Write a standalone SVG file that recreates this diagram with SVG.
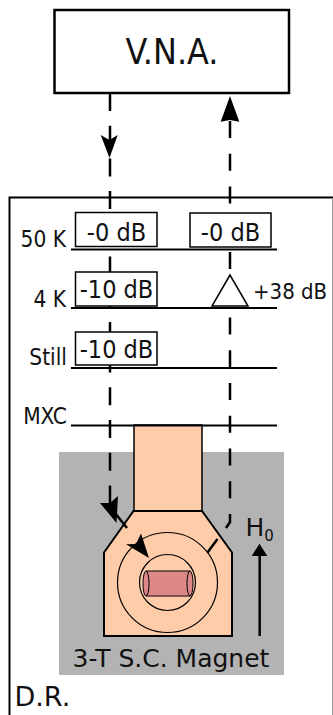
<svg xmlns="http://www.w3.org/2000/svg" width="333" height="715" viewBox="0 0 333 715">
<style>
text{font-family:"DejaVu Sans Condensed","DejaVu Sans",sans-serif;font-stretch:condensed;fill:#111}
text.r{font-family:"DejaVu Sans",sans-serif;font-stretch:normal}
.b{fill:#fff;stroke:#000;stroke-width:1.500}
.l{stroke:#000;stroke-width:2;fill:none}
.d{stroke:#000;stroke-width:2.500;fill:none}
.t{font-size:25px;text-anchor:middle}
.s{font-size:22.500px;text-anchor:end}
</style>
<rect width="333" height="715" fill="#fff"/>
<g id="dr"><path d="M9.500 715V197.500H333" fill="none" stroke="#000" stroke-width="2"/><path d="M332.500 198V715" stroke="#999" stroke-width="1"/><text class="r" x="14.500" y="706" font-size="27">D.R.</text></g>
<g id="vna"><rect x="54.500" y="10" width="234.500" height="83" fill="#fff" stroke="#000" stroke-width="2.500"/><text x="172" y="64" font-size="35.500" text-anchor="middle">V.N.A.</text></g>
<g id="magnet">
<rect x="59" y="452" width="225" height="223" fill="#b3b3b3"/>
<rect x="134" y="425" width="68" height="86" fill="#ffccaa" stroke="#000" stroke-width="1.500"/>
<path d="M133.500 511H202L232 552.500V636H104V552.500Z" fill="#ffccaa" stroke="#000" stroke-width="2"/>
<circle cx="167.500" cy="582.500" r="50" fill="none" stroke="#000" stroke-width="1.200"/>
<circle cx="167.500" cy="582.500" r="28" fill="none" stroke="#000" stroke-width="1.200"/>
<g id="sample"><path d="M146 571H190V596H146Z" fill="#de8787" stroke="#000" stroke-width="1"/><path d="M146 596H190" stroke="#805050" stroke-width="1.500"/><ellipse cx="146" cy="583.500" rx="3" ry="12.500" fill="#de8787" stroke="#000" stroke-width="1"/><ellipse cx="190" cy="583.500" rx="3" ry="12.500" fill="#de8787" stroke="#000" stroke-width="1"/></g>
<text class="r" x="171" y="667" font-size="25" text-anchor="middle">3-T S.C. Magnet</text>
</g>
<g id="connectors">
<path class="d" d="M110 93V505" stroke-dasharray="18 14.700"/>
<path class="d" d="M230 121V522L226 528" stroke-dasharray="17 15.750"/>
<path d="M109.500 158L100.700 135L109.500 140L117.700 135Z" fill="#000"/>
<path d="M230 96L220.700 121.700L230 120L239.300 121.700Z" fill="#000"/>
<path class="d" d="M127 528L115 513"/>
<path d="M116.500 523L100 503L110 503L118 496Z" fill="#000"/>
<path d="M149 558L126 544.300L136 544L141 533.500Z" fill="#000"/>
<path class="d" d="M207.500 552.500L217.500 539"/>
<path class="d" d="M259.700 636V556"/>
<path d="M259.500 543.700L251.700 556H267.300Z" fill="#000"/>
</g>
<g id="stages">
<path class="l" d="M71 249.500H277M71 308H277M71 368H277M71 425.500H277"/>
<text class="s" x="66" y="247">50 K</text><text class="s" x="66" y="307">4 K</text><text class="s" x="67" y="365">Still</text><text class="s" x="67" y="424">MXC</text>
</g>
<g id="att1"><rect class="b" x="75.500" y="212.500" width="81.500" height="34"/><text class="t" x="116.500" y="240.500">-0 dB</text></g>
<g id="att2"><rect class="b" x="190" y="213" width="81" height="34"/><text class="t" x="230.500" y="241">-0 dB</text></g>
<g id="att3"><rect class="b" x="75.500" y="272" width="81.500" height="34"/><text class="t" x="116.500" y="298">-10 dB</text></g>
<g id="att4"><rect class="b" x="75.500" y="332" width="81.500" height="33"/><text class="t" x="116.500" y="357.500">-10 dB</text></g>
<g id="amp"><path d="M230 275L212 306H248Z" fill="#fff" stroke="#000" stroke-width="1.500"/><text x="253" y="299" font-size="22">+38 dB</text></g>
<g id="h0"><text class="r" x="245.500" y="536" font-size="25">H<tspan font-size="15" dy="5">0</tspan></text></g>
</svg>
